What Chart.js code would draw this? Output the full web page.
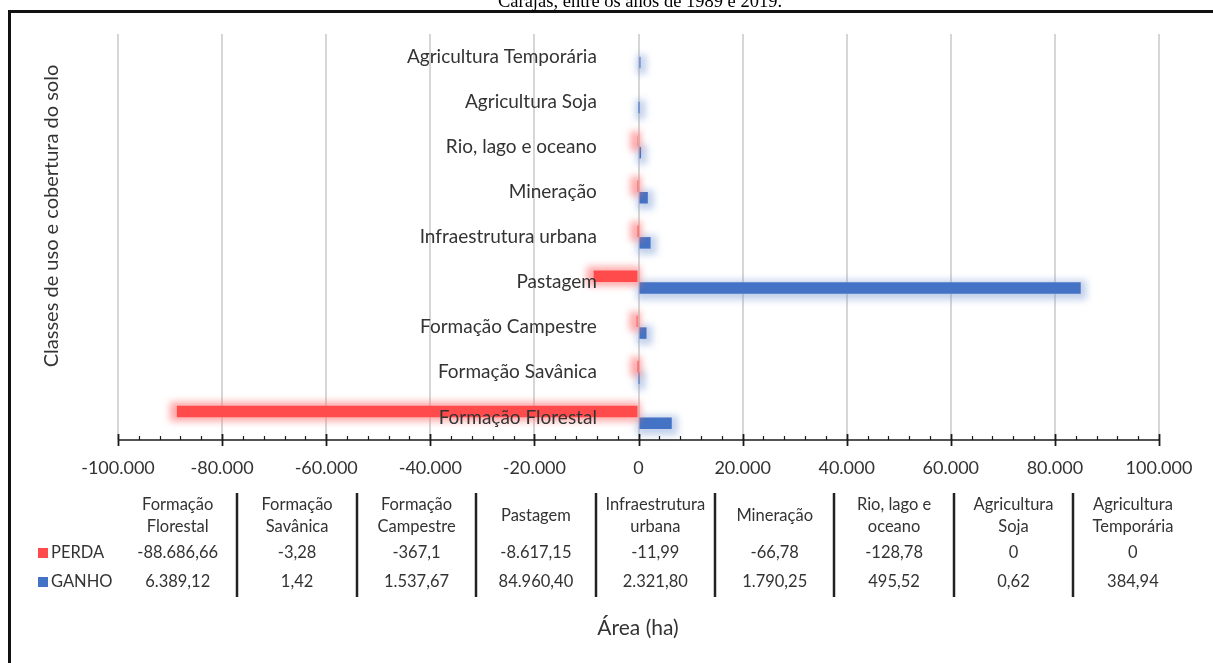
<!DOCTYPE html>
<html>
<head>
<meta charset="utf-8">
<script src="https://cdn.jsdelivr.net/npm/chart.js@4.4.1/dist/chart.umd.min.js"></script>
<style>
  html, body { margin: 0; padding: 0; background: #fff; }
  #wrap { width: 1213px; height: 663px; position: relative; }
</style>
</head>
<body>
<div id="wrap"><canvas id="c" width="1213" height="663"></canvas></div>
<script>
// ---- data ----
const categories = ['Formação Florestal', 'Formação Savânica', 'Formação Campestre', 'Pastagem',
  'Infraestrutura urbana', 'Mineração', 'Rio, lago e oceano', 'Agricultura Soja', 'Agricultura Temporária'];
const tableHeaders = [['Formação', 'Florestal'], ['Formação', 'Savânica'], ['Formação', 'Campestre'], ['Pastagem'],
  ['Infraestrutura', 'urbana'], ['Mineração'], ['Rio, lago e', 'oceano'], ['Agricultura', 'Soja'], ['Agricultura', 'Temporária']];
const perdaText = ['-88.686,66', '-3,28', '-367,1', '-8.617,15', '-11,99', '-66,78', '-128,78', '0', '0'];
const ganhoText = ['6.389,12', '1,42', '1.537,67', '84.960,40', '2.321,80', '1.790,25', '495,52', '0,62', '384,94'];
const seriesNames = ['PERDA', 'GANHO'];
const xMin = -100000, xMax = 100000, xStep = 20000;
const titleText = 'Carajás, entre os anos de 1989 e 2019.';
const yTitle = 'Classes de uso e cobertura do solo';
const xTitle = 'Área (ha)';

function parseBR(s) { return parseFloat(s.replace(/\./g, '').replace(',', '.')); }
const perda = perdaText.map(parseBR);
const ganho = ganhoText.map(parseBR);

function fmtBR(v) {
  const neg = v < 0; const s = Math.abs(Math.round(v)).toString();
  return (neg ? '-' : '') + s.replace(/\B(?=(\d{3})+(?!\d))/g, '.');
}

const FONT = 'Lato, "Open Sans", sans-serif';
const TXT = '#333333';
const RED = '#FF4B4B', BLUE = '#4472C4';
const GLOW = ['rgba(255,110,110,0.6)', 'rgba(120,150,210,0.45)'];

const framePlugin = {
  id: 'frame',
  beforeDraw(chart) {
    const ctx = chart.ctx;
    ctx.save();
    ctx.fillStyle = '#fff';
    ctx.fillRect(0, 0, chart.width, chart.height);
    ctx.restore();
  },
  beforeDatasetDraw(chart, args) {
    const ctx = chart.ctx;
    const meta = chart.getDatasetMeta(args.index);
    const vals = chart.data.datasets[args.index].data;
    ctx.save();
    ctx.filter = 'blur(3.5px)';
    ctx.fillStyle = GLOW[args.index];
    const dy = args.index === 1 ? 2 : 0;
    meta.data.forEach((el, i) => {
      if (vals[i] === 0) return;
      const p = el.getProps(['x', 'y', 'base', 'height'], true);
      const l = Math.min(p.x, p.base), r = Math.max(p.x, p.base);
      const padL = args.index === 0 ? 7 : 3, padR = args.index === 0 ? 3 : 6;
      ctx.fillRect(l - padL, p.y - p.height / 2 - 4 + dy, r - l + padL + padR, p.height + 8);
    });
    ctx.restore();
  },
  afterDraw(chart) {
    const ctx = chart.ctx;
    const xs = chart.scales.x;
    const ca = chart.chartArea;
    ctx.save();
    // axis line and ticks
    const yAx = ca.bottom;
    ctx.strokeStyle = '#1a1a1a';
    ctx.lineWidth = 1.6;
    ctx.beginPath();
    ctx.moveTo(xs.getPixelForValue(xMin), yAx);
    ctx.lineTo(xs.getPixelForValue(xMax), yAx);
    ctx.stroke();
    for (let v = xMin; v <= xMax; v += xStep / 5) {
      const px = Math.round(xs.getPixelForValue(v)) + 0.5;
      const major = (v % xStep) === 0;
      ctx.beginPath();
      ctx.moveTo(px, major ? yAx - 6 : yAx - 4);
      ctx.lineTo(px, major ? yAx + 6 : yAx);
      ctx.lineWidth = major ? 1.8 : 1.2;
      ctx.stroke();
    }
    // y title
    ctx.fillStyle = TXT;
    ctx.font = '20px ' + FONT;
    ctx.textAlign = 'center';
    ctx.textBaseline = 'middle';
    ctx.save();
    ctx.translate(52, 216);
    ctx.rotate(-Math.PI / 2);
    ctx.fillText(yTitle, 0, 0);
    ctx.restore();
    // data table
    const left = 118, colW = 119.4;
    ctx.font = '16.5px ' + FONT;
    for (let i = 0; i < categories.length; i++) {
      const cx = left + colW * (i + 0.5);
      const h = tableHeaders[i];
      if (h.length === 2) {
        ctx.fillText(h[0], cx, 505);
        ctx.fillText(h[1], cx, 527);
      } else {
        ctx.fillText(h[0], cx, 516);
      }
      ctx.fillText(perdaText[i], cx, 553);
      ctx.fillText(ganhoText[i], cx, 582);
    }
    ctx.strokeStyle = '#222';
    ctx.lineWidth = 2.5;
    for (let i = 1; i < categories.length; i++) {
      const sx = Math.round(left + colW * i);
      ctx.beginPath();
      ctx.moveTo(sx, 493);
      ctx.lineTo(sx, 597);
      ctx.stroke();
    }
    // legend keys
    const rows = [[553, RED], [582, BLUE]];
    ctx.textAlign = 'left';
    rows.forEach((r, k) => {
      ctx.fillStyle = r[1];
      ctx.fillRect(38, r[0] - 5, 10, 10);
      ctx.fillStyle = TXT;
      ctx.fillText(seriesNames[k], 51, r[0]);
    });
    // x title
    ctx.textAlign = 'center';
    ctx.font = '21px ' + FONT;
    ctx.fillText(xTitle, 638, 628);
    // border
    ctx.strokeStyle = '#111';
    ctx.lineWidth = 3;
    ctx.strokeRect(9.5, 11.5, 1215, 700);
    // cut-off title
    ctx.fillStyle = '#000';
    ctx.font = '18.5px "Liberation Serif", "DejaVu Serif", serif';
    ctx.textBaseline = 'alphabetic';
    ctx.fillText(titleText, 640, 7);
    ctx.restore();
  }
};

new Chart(document.getElementById('c'), {
  type: 'bar',
  data: {
    labels: categories,
    datasets: [
      { label: seriesNames[0], data: perda, backgroundColor: RED },
      { label: seriesNames[1], data: ganho, backgroundColor: BLUE }
    ]
  },
  options: {
    indexAxis: 'y',
    responsive: false,
    animation: false,
    devicePixelRatio: 1,
    layout: { padding: { left: 118, right: 54, top: 34, bottom: 183 } },
    datasets: { bar: { categoryPercentage: 0.52, barPercentage: 0.98 } },
    plugins: { legend: { display: false }, tooltip: { enabled: false } },
    scales: {
      x: {
        type: 'linear', min: xMin, max: xMax,
        ticks: { stepSize: xStep, callback: v => fmtBR(v), font: { family: FONT, size: 18 }, color: TXT, padding: 17, maxRotation: 0, autoSkip: false },
        grid: { color: '#d6d6d6', lineWidth: 2, drawTicks: false },
        border: { display: false },
        afterFit: s => { s.height = 40; }
      },
      y: {
        type: 'category', reverse: true, position: { x: -8000 },
        grid: { display: false }, border: { display: false },
        ticks: { font: { family: FONT, size: 19 }, color: TXT, padding: 0, z: 1 },
        afterFit: s => { s.width = 0; }
      }
    }
  },
  plugins: [framePlugin]
});
</script>
</body>
</html>
